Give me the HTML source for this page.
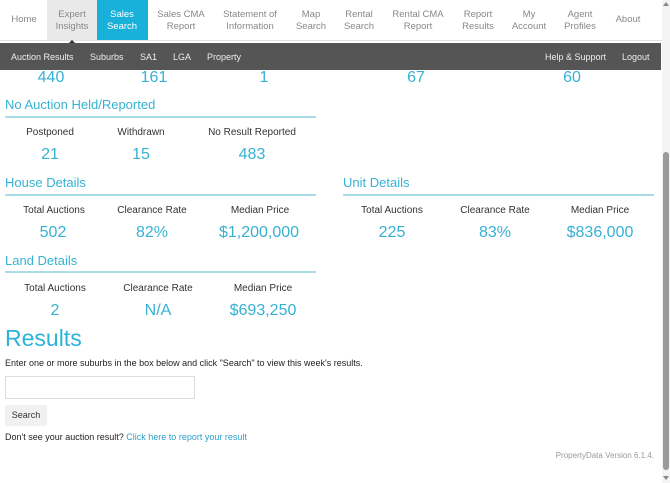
<!DOCTYPE html>
<html><head><meta charset="utf-8"><style>
*{margin:0;padding:0;box-sizing:border-box}
body{width:670px;height:483px;overflow:hidden;background:#fff;font-family:"Liberation Sans",sans-serif;position:relative}
.a{position:absolute;white-space:nowrap}
.c{position:absolute;white-space:nowrap;transform:translateX(-50%)}
.nav{font-size:9.5px;color:#888;text-align:center;line-height:12px}
.sub{color:#eee;font-size:9px;top:52px}
.h{color:#35b3d3;font-size:13px;left:5px}
.lab{font-size:10px;color:#333}
.num{font-size:16px;color:#36b1d2}
.line{position:absolute;height:2px;background:#a9dce6}
</style></head><body>
<div class="a" style="left:0;top:0;width:662px;height:41px;border-bottom:1px solid #e2e2e2"></div>
<div class="a" style="left:47px;top:0;width:50px;height:40px;background:#e9e9e9"></div>
<div class="a" style="left:97px;top:0;width:51px;height:40px;background:#19b0d9"></div>
<div class="a" style="left:69px;top:40px;width:0;height:0;border-left:3px solid transparent;border-right:3px solid transparent;border-bottom:3px solid #333"></div>
<div class="c nav" style="left:24px;top:14px">Home</div>
<div class="c nav" style="left:72px;top:9px">Expert<br>Insights</div>
<div class="c nav" style="left:122px;top:9px;color:#fff">Sales<br>Search</div>
<div class="c nav" style="left:181px;top:9px">Sales CMA<br>Report</div>
<div class="c nav" style="left:250px;top:9px">Statement of<br>Information</div>
<div class="c nav" style="left:311px;top:9px">Map<br>Search</div>
<div class="c nav" style="left:359px;top:9px">Rental<br>Search</div>
<div class="c nav" style="left:418px;top:9px">Rental CMA<br>Report</div>
<div class="c nav" style="left:478px;top:9px">Report<br>Results</div>
<div class="c nav" style="left:529px;top:9px">My<br>Account</div>
<div class="c nav" style="left:580px;top:9px">Agent<br>Profiles</div>
<div class="c nav" style="left:628px;top:14px">About</div>
<div class="a" style="left:0;top:43px;width:661px;height:27px;background:#555"></div>
<div class="a sub" style="left:11px">Auction Results</div>
<div class="a sub" style="left:90px">Suburbs</div>
<div class="a sub" style="left:140px">SA1</div>
<div class="a sub" style="left:173px">LGA</div>
<div class="a sub" style="left:207px">Property</div>
<div class="a sub" style="left:545px">Help &amp; Support</div>
<div class="a sub" style="left:622px">Logout</div>

<div class="c num" style="left:51px;top:69px">440</div>
<div class="c num" style="left:154px;top:69px">161</div>
<div class="c num" style="left:264px;top:69px">1</div>
<div class="c num" style="left:416px;top:69px">67</div>
<div class="c num" style="left:572px;top:69px">60</div>

<div class="a h" style="top:97px">No Auction Held/Reported</div>
<div class="line" style="left:5px;top:116px;width:311px"></div>
<div class="c lab" style="left:50px;top:127px">Postponed</div>
<div class="c lab" style="left:141px;top:127px">Withdrawn</div>
<div class="c lab" style="left:252px;top:127px">No Result Reported</div>
<div class="c num" style="left:50px;top:146px">21</div>
<div class="c num" style="left:141px;top:146px">15</div>
<div class="c num" style="left:252px;top:146px">483</div>

<div class="a h" style="top:175px">House Details</div>
<div class="line" style="left:5px;top:194px;width:311px"></div>
<div class="c lab" style="left:54px;top:205px">Total Auctions</div>
<div class="c lab" style="left:152px;top:205px">Clearance Rate</div>
<div class="c lab" style="left:260px;top:205px">Median Price</div>
<div class="c num" style="left:53px;top:224px">502</div>
<div class="c num" style="left:152px;top:224px">82%</div>
<div class="c num" style="left:259px;top:224px">$1,200,000</div>

<div class="a h" style="top:175px;left:343px">Unit Details</div>
<div class="line" style="left:343px;top:194px;width:311px"></div>
<div class="c lab" style="left:392px;top:205px">Total Auctions</div>
<div class="c lab" style="left:495px;top:205px">Clearance Rate</div>
<div class="c lab" style="left:600px;top:205px">Median Price</div>
<div class="c num" style="left:392px;top:224px">225</div>
<div class="c num" style="left:495px;top:224px">83%</div>
<div class="c num" style="left:600px;top:224px">$836,000</div>

<div class="a h" style="top:253px">Land Details</div>
<div class="line" style="left:5px;top:271px;width:311px"></div>
<div class="c lab" style="left:55px;top:283px">Total Auctions</div>
<div class="c lab" style="left:158px;top:283px">Clearance Rate</div>
<div class="c lab" style="left:263px;top:283px">Median Price</div>
<div class="c num" style="left:55px;top:302px">2</div>
<div class="c num" style="left:158px;top:302px">N/A</div>
<div class="c num" style="left:263px;top:302px">$693,250</div>

<div class="a" style="left:5px;top:325px;font-size:23px;color:#29b4d8">Results</div>
<div class="a" style="left:5px;top:358px;font-size:9px;color:#222">Enter one or more suburbs in the box below and click "Search" to view this week's results.</div>
<div class="a" style="left:5px;top:376px;width:190px;height:23px;border:1px solid #ddd"></div>
<div class="a" style="left:5px;top:405px;width:42px;height:21px;background:#f1f1f1;font-size:9px;color:#333;text-align:center;line-height:21px">Search</div>
<div class="a" style="left:5px;top:432px;font-size:9px;color:#222">Don't see your auction result? <span style="color:#2a9fc9">Click here to report your result</span></div>
<div class="a" style="right:16px;top:451px;font-size:8px;color:#999">PropertyData Version 6.1.4.</div>

<div class="a" style="left:662px;top:0;width:8px;height:483px;background:#f3f3f3"></div>
<div class="a" style="left:663px;top:152px;width:6px;height:318px;background:#9a9a9a;border-radius:3px"></div>
<div class="a" style="left:663px;top:2px;border-left:3px solid transparent;border-right:3px solid transparent;border-bottom:4px solid #888"></div>
<div class="a" style="left:663px;top:476px;border-left:3px solid transparent;border-right:3px solid transparent;border-top:4px solid #888"></div>
</body></html>
